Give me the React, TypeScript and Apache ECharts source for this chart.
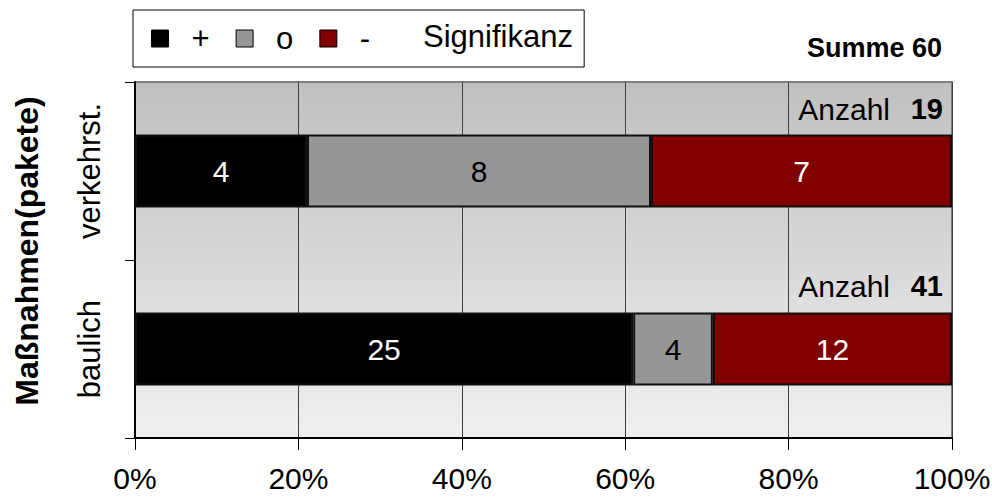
import React, { useEffect, useRef } from "react";
import * as echarts from "echarts";

const categories = ["verkehrst.", "baulich"];
const seriesNames = ["+", "o", "-"];
const plusCounts = [4, 25];
const zeroCounts = [8, 4];
const minusCounts = [7, 12];
const xTicks = [0, 20, 40, 60, 80, 100];

const FONT = "'Liberation Sans', Arial, sans-serif";

export default function App() {
  const ref = useRef<HTMLDivElement>(null);
  useEffect(() => {
    if (!ref.current) return;
    const chart = echarts.init(ref.current, undefined, { renderer: "svg" });
    const totals = categories.map((_, i) => plusCounts[i] + zeroCounts[i] + minusCounts[i]);
    const grand = totals.reduce((a, b) => a + b, 0);
    const counts = [plusCounts, zeroCounts, minusCounts];
    const colors = ["#000000", "#969696", "#800000"];
    const labelColors = ["#ffffff", "#000000", "#ffffff"];

    const series = seriesNames.map((name, s) => ({
      name,
      type: "bar",
      stack: "total",
      barWidth: "41%",
      data: counts[s].map((c, i) => ({ value: (c / totals[i]) * 100, count: c })),
      itemStyle: { color: colors[s], borderColor: "#111111", borderWidth: 2 },
      label: {
        show: true,
        position: "inside",
        color: labelColors[s],
        fontSize: 30,
        fontFamily: FONT,
        formatter: (p: any) => String(p.data.count),
      },
    }));

    const annY = [109, 286];
    const graphics: any[] = [
      {
        type: "text",
        left: 423,
        top: 21,
        style: { text: "Signifikanz", fontSize: 31, fontFamily: FONT, fill: "#000" },
      },
      {
        type: "text",
        x: 942,
        y: 48,
        style: {
          text: "Summe " + grand,
          fontSize: 27,
          fontWeight: "bold",
          fontFamily: FONT,
          fill: "#000",
          align: "right",
          verticalAlign: "middle",
        },
      },
    ];
    categories.forEach((_, i) => {
      graphics.push({
        type: "text",
        x: 890,
        y: annY[i],
        z: 10,
        style: { text: "Anzahl", fontSize: 30, fontFamily: FONT, fill: "#000", align: "right", verticalAlign: "middle" },
      });
      graphics.push({
        type: "text",
        x: 943,
        y: annY[i],
        z: 10,
        style: {
          text: String(totals[i]),
          fontSize: 29,
          fontWeight: "bold",
          fontFamily: FONT,
          fill: "#000",
          align: "right",
          verticalAlign: "middle",
        },
      });
    });

    chart.setOption({
      animation: false,
      backgroundColor: "#ffffff",
      textStyle: { fontFamily: FONT },
      legend: {
        data: seriesNames,
        left: 133,
        top: 10,
        orient: "horizontal",
        itemWidth: 17,
        itemHeight: 17,
        itemGap: 26,
        padding: [13, 214, 13, 18],
        borderColor: "#000",
        borderWidth: 1,
        icon: "rect",
        itemStyle: { borderColor: "#000", borderWidth: 1 },
        textStyle: { fontSize: 31, fontFamily: FONT, color: "#000", padding: [0, 0, 0, 18], lineHeight: 30 },
        selectedMode: false,
      },
      grid: {
        left: 135,
        right: 40,
        top: 82,
        bottom: 60,
        containLabel: false,
        outerBoundsMode: "none",
        show: true,
        borderColor: "#808080",
        borderWidth: 2,
        backgroundColor: new echarts.graphic.LinearGradient(0, 0, 0, 1, [
          { offset: 0, color: "#c0c0c0" },
          { offset: 1, color: "#f0f0f0" },
        ]),
      },
      xAxis: {
        type: "value",
        min: xTicks[0],
        max: xTicks[xTicks.length - 1],
        interval: xTicks[1] - xTicks[0],
        axisLine: { show: true, lineStyle: { color: "#000", width: 2 } },
        axisTick: { show: true, length: 12, lineStyle: { color: "#000" } },
        splitLine: { show: true, lineStyle: { color: "#404040", width: 1 } },
        axisLabel: { fontSize: 30, color: "#000", fontFamily: FONT, margin: 25, formatter: "{value}%", hideOverlap: false },
      },
      yAxis: {
        type: "category",
        data: categories,
        inverse: true,
        name: "Maßnahmen(pakete)",
        nameLocation: "middle",
        nameRotate: 90,
        nameGap: 92,
        nameTextStyle: { fontSize: 32, fontWeight: "bold", color: "#000", fontFamily: FONT, padding: [0, 0, 0, 18] },
        axisLine: { show: true, lineStyle: { color: "#000", width: 2 } },
        axisTick: { show: true, length: 10, lineStyle: { color: "#000" } },
        axisLabel: { rotate: 90, interval: 0, fontSize: 31, color: "#000", fontFamily: FONT, margin: 30, hideOverlap: false },
      },
      series,
      graphic: graphics,
    });
    return () => chart.dispose();
  }, []);
  return <div ref={ref} style={{ position: "fixed", left: 0, top: 0, width: 992, height: 498 }} />;
}
